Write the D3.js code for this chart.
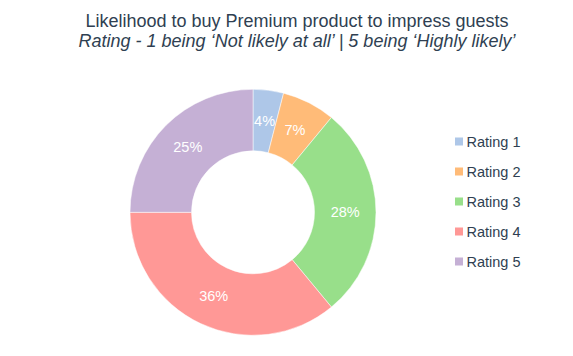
<!DOCTYPE html>
<html><head><meta charset="utf-8">
<script src="https://cdn.jsdelivr.net/npm/d3@7"></script>
<style>body{margin:0;background:#fff;}svg{display:block;font-family:"Liberation Sans",Arial,sans-serif;}</style>
</head><body>
<svg id="c" width="573" height="356"></svg>
<script>
const categories = ["Rating 1","Rating 2","Rating 3","Rating 4","Rating 5"];
const values = [4,7,28,36,25];
const colors = ["#aec7e8","#ffbb78","#98df8a","#ff9896","#c5b0d5"];
const titleLines = ["Likelihood to buy Premium product to impress guests","Rating - 1 being ‘Not likely at all’ | 5 being ‘Highly likely’"];

const svg = d3.select("#c");
const cx = 253, cy = 212.3, R = 123, r = 61.5;
const textColor = "#2f3f52";
const data = categories.map((c,i)=>({cat:c,value:values[i],color:colors[i]}));
const pie = d3.pie().value(d=>d.value).sort(null);
const arc = d3.arc().innerRadius(r).outerRadius(R);
const g = svg.append("g").attr("transform",`translate(${cx},${cy})`);
const arcs = pie(data);
g.selectAll("path").data(arcs).enter().append("path")
  .attr("d",arc).attr("fill",d=>d.data.color).attr("stroke","#fff").attr("stroke-width",0.5);
g.selectAll("text").data(arcs).enter().append("text")
  .attr("transform",d=>`translate(${arc.centroid(d)})`)
  .attr("text-anchor","middle").attr("dy","0.35em")
  .attr("fill","#fff").attr("font-size",14.5)
  .text(d=>d.data.value+"%");

svg.append("text").attr("x",297).attr("y",27).attr("text-anchor","middle")
  .attr("font-size",18).attr("fill",textColor).text(titleLines[0]);
svg.append("text").attr("x",297).attr("y",46.5).attr("text-anchor","middle")
  .attr("font-size",18).attr("font-style","italic").attr("fill",textColor).text(titleLines[1]);

const leg = svg.append("g");
const ly = d3.scalePoint().domain(categories).range([141.5,261.5]);
const li = leg.selectAll("g").data(data).enter().append("g")
  .attr("transform",d=>`translate(455,${ly(d.cat)})`);
li.append("rect").attr("x",0).attr("y",-4).attr("width",8).attr("height",8).attr("fill",d=>d.color);
li.append("text").attr("x",11.5).attr("dy","0.35em").attr("font-size",14.5).attr("fill",textColor).text(d=>d.cat);
</script>
</body></html>
